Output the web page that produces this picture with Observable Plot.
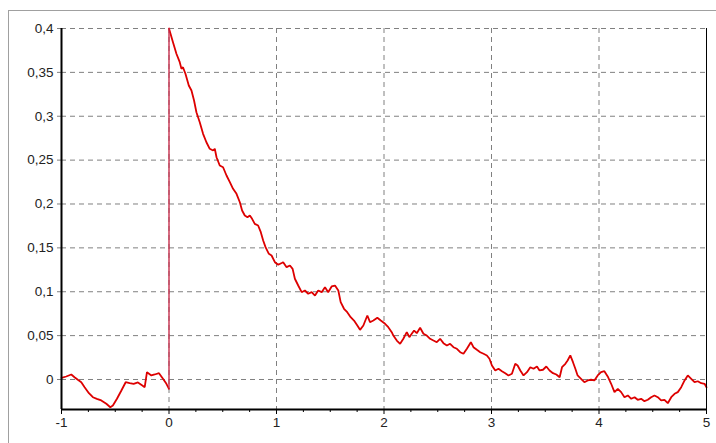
<!DOCTYPE html>
<html>
<head>
<meta charset="utf-8">
<script src="https://cdn.jsdelivr.net/npm/d3@7"></script>
<script src="https://cdn.jsdelivr.net/npm/@observablehq/plot@0.6"></script>
<style>
  html, body { margin: 0; padding: 0; background: #fff; }
  #wrap { position: relative; width: 716px; height: 443px; overflow: hidden; }
  #frame { position: absolute; left: 8px; top: 10px; width: 720px; height: 450px; border: 1px solid #a0a0a0; box-sizing: border-box; }
  #chart { position: absolute; left: 0; top: 0; }
</style>
</head>
<body>
<div id="wrap"><div id="frame"></div><div id="chart"></div></div>
<script>
// Signal before the step (t < 0)
const preX = [-1.0,-0.956,-0.909,-0.879,-0.848,-0.816,-0.785,-0.745,-0.708,-0.671,-0.630,-0.583,-0.546,-0.522,-0.484,-0.443,-0.403,-0.366,-0.329,-0.289,-0.248,-0.226,-0.205,-0.164,-0.133,-0.093,-0.056,-0.024,0];
const preY = [0.0019,0.0034,0.0057,0.0026,-0.0003,-0.0031,-0.0088,-0.0156,-0.0202,-0.022,-0.0239,-0.0277,-0.0316,-0.0296,-0.022,-0.0125,-0.0031,-0.0042,-0.0049,-0.0034,-0.0068,-0.0088,0.0083,0.0046,0.0057,0.0072,0.0008,-0.0049,-0.0106];

// Signal after the step (t >= 0)
const postX = [0,0.037,0.069,0.1,0.116,0.13,0.153,0.184,0.209,0.233,0.255,0.286,0.317,0.348,0.379,0.41,0.426,0.442,0.472,0.503,0.535,0.566,0.596,0.628,0.659,0.68,0.705,0.73,0.752,0.773,0.798,0.829,0.854,0.876,0.898,0.929,0.954,0.985,1.016,1.053,
  1.062,1.094,1.125,1.15,1.171,1.202,1.234,1.264,1.295,1.327,1.358,1.388,1.42,1.451,1.481,1.513,1.544,1.575,1.597,1.628,1.658,1.69,1.721,1.752,1.777,1.808,1.845,1.87,1.901,1.938,1.97,2.01,2.04,
  2.072,2.087,2.119,2.15,2.18,2.212,2.236,2.258,2.28,2.305,2.336,2.367,2.398,2.429,2.46,2.491,2.522,2.553,2.585,2.615,2.646,2.678,2.709,2.739,2.771,2.808,2.832,2.864,2.895,2.926,2.957,2.981,3.004,3.035,3.065,3.097,3.128,3.158,
  3.19,3.221,3.243,3.268,3.298,3.33,3.361,3.391,3.423,3.447,3.479,3.51,3.54,3.572,3.603,3.634,3.656,3.687,3.708,3.733,3.758,3.78,3.801,3.833,3.864,3.895,3.926,3.957,3.988,4.019,4.05,4.081,
  4.113,4.144,4.175,4.206,4.237,4.268,4.3,4.331,4.36,4.392,4.423,4.454,4.485,4.516,4.547,4.578,4.609,4.64,4.672,4.703,4.733,4.765,4.796,4.826,4.858,4.889,4.919,4.951,4.982,5.0];
const postY = [0.4,0.3844,0.3712,0.3616,0.354,0.3559,0.3484,0.335,0.3293,0.318,0.3046,0.2932,0.28,0.2704,0.2629,0.261,0.2629,0.2533,0.2439,0.2419,0.2325,0.2249,0.2173,0.2116,0.202,0.1926,0.1869,0.185,0.1869,0.1831,0.1774,0.1755,0.1679,0.1584,0.1508,0.1432,0.1413,0.1337,0.1307,0.133,
  0.1337,0.128,0.1299,0.1261,0.1148,0.1071,0.0995,0.1014,0.0977,0.0995,0.0957,0.1014,0.0995,0.1052,0.0995,0.106,0.1071,0.1014,0.0881,0.0806,0.0767,0.071,0.0672,0.0615,0.0566,0.0615,0.0729,0.0653,0.0672,0.0703,0.0672,0.0635,0.0596,
  0.0539,0.0501,0.0444,0.0407,0.0464,0.0539,0.0482,0.0521,0.0558,0.0528,0.0589,0.0521,0.0501,0.0464,0.0444,0.0425,0.0464,0.0414,0.0387,0.0407,0.0368,0.035,0.0311,0.0293,0.035,0.0425,0.0368,0.0338,0.0311,0.0293,0.0274,0.0236,0.016,0.0103,0.0122,0.0095,0.0072,0.0046,
  0.0065,0.0179,0.016,0.0103,0.0046,0.0083,0.014,0.0122,0.0148,0.0103,0.0111,0.0148,0.0103,0.0072,0.0057,0.0026,0.014,0.0179,0.0217,0.0274,0.0197,0.0122,0.0046,0.0008,-0.0031,-0.0011,-0.0003,-0.0011,0.0046,0.0083,0.0095,0.0035,
  -0.0049,-0.0144,-0.0106,-0.0144,-0.0202,-0.0182,-0.022,-0.0202,-0.0231,-0.022,-0.0247,-0.0231,-0.0202,-0.0182,-0.0202,-0.0239,-0.0231,-0.027,-0.0202,-0.0163,-0.0144,-0.0088,-0.0011,0.0046,0.0008,-0.0031,-0.002,-0.0042,-0.0049,-0.0088];

const xTicks = [-1, 0, 1, 2, 3, 4, 5];
const xMinorTicks = [-0.75,-0.5,-0.25,0.25,0.5,0.75,1.25,1.5,1.75,2.25,2.5,2.75,3.25,3.5,3.75,4.25,4.5,4.75];
const yTicks = [0, 0.05, 0.1, 0.15, 0.2, 0.25, 0.3, 0.35, 0.4];
const yTickLabels = ["0", "0,05", "0,1", "0,15", "0,2", "0,25", "0,3", "0,35", "0,4"];
const xDomain = [-1, 5];
const yDomain = [-0.0342, 0.4];

const pre = preX.map((x, i) => ({x, y: preY[i]}));
const post = postX.map((x, i) => ({x, y: postY[i]}));
const step = [{x: 0, y1: preY[preY.length - 1], y2: postY[0]}];

const gridStyle = {stroke: "#808080", strokeOpacity: 1, strokeDasharray: "5,4"};

const chart = Plot.plot({
  width: 716,
  height: 443,
  marginLeft: 61,
  marginRight: 10,
  marginTop: 28,
  marginBottom: 34,
  style: {fontFamily: "'Liberation Sans', Arial, sans-serif", fontSize: "13.5px", color: "#222", background: "transparent"},
  x: {domain: xDomain},
  y: {domain: yDomain},
  marks: [
    Plot.gridX(xTicks.slice(1, -1), gridStyle),
    Plot.gridY(yTicks, gridStyle),
    Plot.line(pre, {x: "x", y: "y", stroke: "#dd0000", strokeWidth: 1.8, strokeLinejoin: "miter"}),
    Plot.line(post, {x: "x", y: "y", stroke: "#dd0000", strokeWidth: 1.8, strokeLinejoin: "miter"}),
    Plot.ruleX(step, {x: "x", y1: "y1", y2: "y2", stroke: "#c8304e", strokeWidth: 1.4}),
    Plot.axisY(yTicks, {tickSize: 4, tickPadding: 4, stroke: "#808080", tickFormat: (d) => yTickLabels[yTicks.indexOf(d)], label: null}),
    Plot.axisX(xTicks, {tickSize: 5, tickPadding: 3, stroke: "#000", tickFormat: (d) => String(d), label: null}),
    Plot.axisX(xMinorTicks, {tickSize: 3, stroke: "#000", tickFormat: () => "", label: null}),
    Plot.ruleX([xDomain[0]], {stroke: "#000", strokeWidth: 2}),
    Plot.ruleY([yDomain[0]], {stroke: "#000", strokeWidth: 2}),
    Plot.ruleX([xDomain[1]], {stroke: "#000", strokeWidth: 1})
  ]
});
document.getElementById("chart").appendChild(chart);
</script>
</body>
</html>
